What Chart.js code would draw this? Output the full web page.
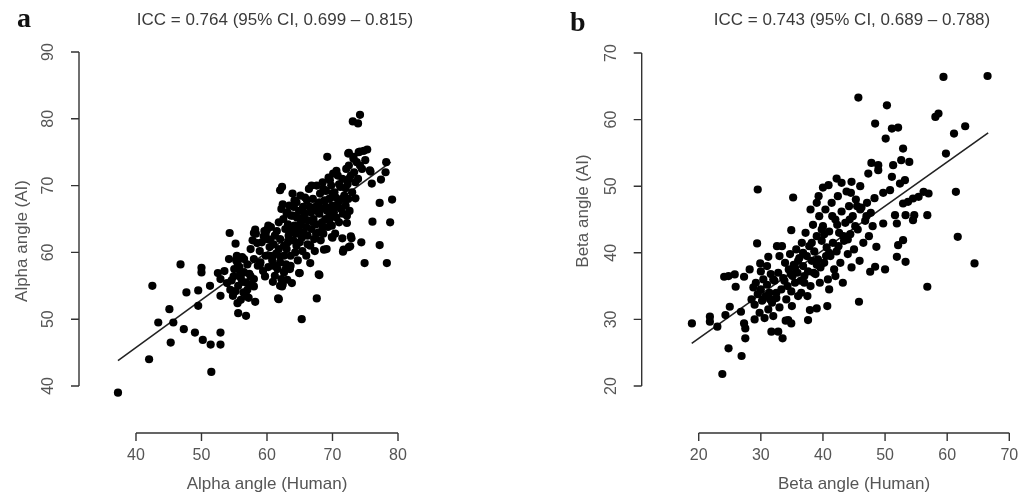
<!DOCTYPE html>
<html>
<head>
<meta charset="utf-8">
<script src="https://cdn.jsdelivr.net/npm/chart.js@4.4.1/dist/chart.umd.min.js"></script>
<style>
  html, body { margin: 0; padding: 0; background: #fff; }
  #wrap { position: relative; width: 1035px; height: 498px; }
  canvas { position: absolute; top: 0; }
</style>
</head>
<body>
<div id="wrap">
  <canvas id="alpha" width="517" height="498" style="left:0"></canvas>
  <canvas id="beta" width="518" height="498" style="left:517px"></canvas>
</div>
<script>
// ---- panel a: alpha angle, human vs AI (x, y pairs) ----
const alphaHuman = [
  37.25, 42.0, 42.5, 43.4, 45.1, 45.3, 45.7, 46.8, 47.3, 47.7, 49.0, 49.5, 49.5, 50.0, 50.0, 50.2,
  51.3, 51.4, 51.5, 52.5, 52.9, 52.9, 52.9, 52.9, 53.5, 54.3, 54.2, 53.9, 54.4, 54.8, 55.2, 55.4,
  55.5, 55.6, 56.8, 55.5, 55.9, 56.2, 56.9, 58.0, 58.2, 57.0, 54.9, 56.5, 57.5, 58.0, 58.2, 58.5,
  59.5, 58.9, 60.0, 60.5, 59.7, 61.8, 60.9, 61.4, 60.8, 62.0, 62.3, 62.8, 63.1, 63.8, 65.0, 65.3,
  66.6, 67.6, 68.0, 68.7, 69.9, 69.2, 71.5, 71.6, 72.5, 72.8, 74.4, 74.9, 72.2, 73.5, 73.1, 73.9,
  74.2, 72.5, 75.3, 74.2, 73.2, 75.8, 76.0, 76.1, 77.2, 77.2, 77.4, 78.1, 78.2, 78.3, 78.8, 79.1,
  70.0, 72.9, 71.7, 72.7, 67.9, 61.7, 64.9, 72.4, 75.7,
  61.5, 61.8, 62.0, 62.2, 62.4, 62.0, 62.3, 62.5, 62.6, 62.8, 62.9, 63.0, 63.1, 63.2, 63.3, 63.4,
  63.5, 63.6, 63.7, 63.8, 63.9, 64.0, 64.1, 64.2, 64.3, 64.4, 64.5, 64.6, 64.7, 64.8, 64.9, 65.0,
  65.1, 65.2, 65.3, 65.4, 65.5, 65.6, 65.8, 66.0, 66.1, 66.2, 66.3, 66.4, 66.6, 66.7, 66.8, 67.0,
  67.1, 67.2, 67.3, 67.4, 67.5, 67.6, 67.8, 67.9, 68.0, 68.1, 68.2, 68.3, 68.4, 68.5, 68.6, 68.8,
  68.9, 69.0, 69.1, 69.2, 69.3, 69.4, 69.5, 69.6, 69.8, 69.9, 70.0, 70.1, 70.2, 70.3, 70.4, 70.5,
  70.6, 70.8, 70.9, 71.0, 71.2, 71.3, 71.5, 71.6, 71.8, 72.0, 72.1, 72.2, 72.3, 72.4, 72.5, 72.6,
  72.8, 73.0, 73.2, 73.3, 73.5, 73.7, 73.9, 74.0, 74.2, 74.5, 74.8, 75.0,
  57.5, 57.8, 58.0, 58.3, 58.6, 58.9, 59.2, 59.4, 59.6, 59.8, 60.0, 60.2, 60.4, 60.6, 60.8, 61.0,
  61.2, 61.4, 61.6, 61.8, 62.0, 62.2, 62.4, 62.6, 62.0, 61.0, 60.5, 59.0,
  55.0, 55.3, 55.8, 56.0, 56.2, 56.5, 56.8, 57.0, 56.4, 55.6, 57.3, 57.6, 58.0, 54.6, 55.2, 56.0, 57.2,
  63.0, 63.5, 64.0, 64.5, 65.0, 65.5, 66.0, 66.5, 67.0, 67.5, 68.0, 68.5, 69.0, 69.5, 70.0, 70.5,
  71.0, 71.5, 72.0, 72.5, 63.2, 64.2, 65.8, 66.8, 67.6, 68.6, 69.6, 70.6, 64.6, 66.2, 62.6, 63.6,
  61.2, 60.2, 59.8
];
const alphaAI = [
  39.0, 44.0, 55.0, 49.5, 51.5, 46.5, 49.5, 58.2, 48.5, 54.0, 48.0, 54.3, 52.0, 57.7, 57.0, 46.9,
  55.0, 46.2, 42.1, 56.9, 53.5, 48.0, 46.2, 56.0, 57.2, 62.9, 59.0, 55.4, 54.4, 53.5, 61.3, 59.5,
  52.4, 50.9, 50.5, 58.4, 56.9, 55.6, 53.4, 54.9, 52.6, 54.4, 56.4, 59.0, 56.4, 62.9, 63.4, 61.4,
  62.4, 58.1, 63.4, 61.9, 56.4, 53.0, 55.6, 57.9, 59.4, 59.4, 54.9, 57.4, 55.9, 55.4, 56.9, 50.0,
  58.4, 53.1, 56.6, 60.4, 62.3, 74.3, 62.1, 60.1, 60.8, 62.4, 61.5, 58.4, 64.4, 68.1, 79.6, 79.3,
  80.6, 74.9, 75.4, 75.1, 74.3, 72.1, 70.3, 64.6, 67.4, 61.1, 70.9, 72.0, 73.5, 58.4, 64.5, 67.9,
  62.2, 62.1, 60.4, 60.9, 56.7, 53.1, 56.9, 74.8, 72.3,
  63.2, 64.5, 62.0, 66.5, 67.2, 69.3, 69.8, 65.0, 61.0, 63.5, 58.2, 60.5, 66.0, 64.2, 62.5, 67.0,
  57.5, 59.5, 65.5, 63.0, 68.8, 61.8, 66.8, 64.0, 60.0, 62.8, 67.5, 65.2, 58.8, 63.8, 66.2, 61.5,
  68.5, 64.5, 62.2, 60.2, 66.8, 63.0, 65.8, 59.5, 67.8, 62.5, 64.8, 69.5, 61.0, 66.0, 63.5, 68.0,
  65.0, 62.0, 60.2, 66.8, 64.2, 70.0, 67.2, 63.0, 65.8, 68.8, 61.8, 66.5, 64.5, 70.5, 62.8, 67.8,
  65.0, 69.2, 60.5, 66.2, 63.8, 71.2, 68.0, 65.5, 70.0, 64.0, 67.0, 71.8, 66.0, 69.0, 62.8, 68.2,
  65.2, 71.5, 67.5, 64.5, 69.8, 66.5, 71.0, 65.8, 68.5, 67.0, 72.5, 65.5, 70.2, 68.0, 73.0, 66.2,
  71.5, 69.0, 74.0, 72.0, 70.5, 73.5, 71.0, 75.0, 73.0, 72.5, 75.2, 73.8,
  60.5, 61.8, 59.0, 62.8, 58.0, 60.2, 61.5, 57.2, 63.2, 59.5, 62.0, 57.8, 60.8, 63.8, 58.8, 61.2,
  56.5, 59.8, 57.5, 60.5, 58.5, 56.0, 55.2, 57.0, 55.0, 58.0, 59.5, 58.5,
  57.5, 58.8, 57.8, 56.2, 59.3, 57.0, 55.5, 58.2, 54.0, 55.0, 56.8, 55.2, 56.0, 55.8, 54.2, 52.9, 53.2,
  65.8, 63.8, 65.5, 61.0, 64.0, 65.2, 63.8, 66.8, 64.6, 62.8, 67.5, 63.8, 66.8, 64.8, 68.8, 66.8,
  70.2, 68.0, 69.6, 71.0, 61.5, 67.8, 68.2, 70.0, 66.2, 69.5, 70.8, 72.2, 63.2, 61.2, 59.5, 58.0,
  62.5, 64.0, 62.8
];
const alphaFitX = [37.25, 78.9];
const alphaFitY = [43.8, 73.5];
const alphaXTicks = [40, 50, 60, 70, 80];
const alphaYTicks = [40, 50, 60, 70, 80, 90];

// ---- panel b: beta angle, human vs AI ----
const betaHuman = [
  18.9, 21.8, 21.8, 23.0, 23.8, 24.1, 24.8, 24.3, 25.0, 24.8, 25.8, 25.95, 27.3, 26.8, 26.9, 27.3,
  27.5, 27.5, 28.2, 29.5, 29.4, 29.9, 31.2, 31.7, 32.8, 33.5, 32.6, 33.4, 34.9, 35.2, 34.4, 34.9,
  37.6, 37.9, 39.0, 40.7, 45.8, 39.3, 42.2, 40.9, 44.6, 45.7, 48.4, 50.3, 50.1, 51.1, 52.1, 47.8,
  48.9, 48.9, 47.3, 51.3, 52.9, 52.6, 53.9, 56.2, 57.0, 56.8, 56.8, 58.1, 58.6, 59.4, 59.8, 61.1,
  62.9, 61.4, 61.7, 64.4, 66.5, 54.5, 54.5, 54.7, 53.3, 52.9, 53.3, 51.9, 52.1, 52.9, 51.6, 51.9,
  49.7, 50.0, 48.6, 48.4, 47.6, 49.7, 50.8, 51.1, 52.4, 53.2, 53.7, 55.4,
  28.5, 28.8, 29.0, 29.2, 29.5, 29.8, 30.0, 30.2, 30.4, 30.6, 30.8, 31.0, 31.2, 31.4, 31.6, 31.8,
  32.0, 32.2, 32.5, 32.8, 33.0, 33.3, 33.6, 33.9, 34.1, 34.3, 34.5, 34.7, 34.9, 35.1, 35.3, 35.5,
  35.7, 35.9, 36.0, 36.2, 36.4, 36.6, 36.8, 37.0, 37.2, 37.4, 37.6, 37.8, 38.0, 38.2, 38.4, 38.6,
  38.8, 39.0, 39.2, 39.4, 39.6, 39.8, 40.0, 40.2, 40.4, 40.6, 40.8, 41.0, 41.2, 41.4, 41.6, 41.8,
  42.0, 42.2, 42.4, 42.6, 42.8, 43.0, 43.2, 43.4, 43.6, 43.8, 44.0, 44.2, 44.4, 44.6, 44.8, 45.0,
  45.3, 45.6, 45.9, 46.2, 46.5, 46.8, 47.1, 47.4, 47.7, 48.0, 48.3, 36.5, 35.0, 37.5, 39.5, 41.0,
  42.0, 33.0, 31.0, 30.0, 29.0, 32.0, 34.0, 38.0, 40.0, 43.0, 44.5, 46.0, 39.0, 41.5,
  35.5, 36.8, 38.2, 39.0, 40.2, 41.0, 42.3, 43.3, 44.3, 45.2, 46.0, 33.8, 32.5, 31.5, 30.3, 37.0,
  38.5, 40.5, 42.5, 44.0, 45.5, 47.0, 36.0, 34.8, 39.8
];
const betaAI = [
  29.4, 30.4, 29.65, 28.9, 21.8, 36.4, 36.5, 30.65, 31.9, 25.65, 36.75, 34.9, 36.4, 31.15, 24.5, 29.4,
  27.15, 28.65, 37.5, 49.5, 41.4, 38.4, 39.4, 28.15, 28.15, 27.15, 41.0, 41.0, 43.4, 48.3, 29.9, 29.4,
  29.9, 31.4, 31.65, 32.0, 32.65, 48.5, 51.15, 50.15, 50.65, 63.3, 59.4, 62.15, 57.15, 58.65, 58.8, 53.5,
  53.15, 52.4, 51.9, 53.15, 55.65, 53.9, 53.65, 49.15, 48.9, 45.65, 34.9, 60.4, 60.9, 66.4, 54.9, 57.9,
  59.0, 49.15, 42.4, 38.4, 66.55, 48.15, 44.9, 45.65, 45.65, 47.4, 38.65, 39.4, 41.15, 41.9, 45.65, 44.4,
  44.4, 37.5, 40.9, 37.9, 37.15, 49.0, 49.4, 51.4, 50.4, 50.9, 47.65, 48.4,
  33.0, 34.8, 32.2, 35.5, 33.8, 31.0, 34.5, 32.8, 36.0, 30.2, 33.5, 35.2, 31.5, 34.0, 36.8, 32.5,
  30.5, 35.8, 33.2, 37.0, 31.8, 34.5, 36.2, 38.5, 33.0, 35.0, 37.5, 39.8, 34.2, 36.5, 38.2, 35.5,
  40.5, 37.0, 33.5, 39.2, 35.8, 41.5, 38.0, 36.5, 43.0, 39.5, 37.2, 41.0, 35.0, 38.8, 44.2, 40.2,
  36.8, 42.5, 39.0, 45.5, 37.8, 41.8, 44.0, 38.5, 46.5, 40.8, 36.0, 43.2, 39.5, 47.5, 41.5, 37.5,
  45.0, 40.2, 48.5, 43.0, 38.5, 46.2, 35.5, 41.8, 44.5, 49.2, 39.8, 47.0, 42.8, 37.8, 45.5, 40.5,
  48.0, 43.5, 38.8, 46.8, 41.5, 44.8, 47.5, 42.5, 46.0, 44.0, 48.2, 34.0, 32.0, 33.5, 35.5, 34.5,
  36.5, 39.5, 38.0, 37.2, 30.0, 36.0, 29.8, 46.5, 49.8, 50.5, 49.0, 50.0, 47.5, 45.5,
  37.8, 40.0, 41.5, 38.2, 42.8, 40.0, 44.2, 42.5, 45.0, 44.0, 46.5, 35.8, 34.0, 33.0, 33.0, 35.5,
  37.0, 39.5, 41.0, 42.0, 47.0, 45.5, 38.8, 36.8, 43.5
];
const betaFitX = [18.87, 66.6];
const betaFitY = [26.4, 58.0];
const betaXTicks = [20, 30, 40, 50, 60, 70];
const betaYTicks = [20, 30, 40, 50, 60, 70];

// R-style detached axes, drawn off the chart's own scales
const rAxes = {
  id: 'rAxes',
  afterDraw(chart, args, o) {
    const {ctx, chartArea: area} = chart;
    const xs = chart.scales.x, ys = chart.scales.y;
    const xt = o.xTicks, yt = o.yTicks;
    ctx.save();
    ctx.strokeStyle = '#333';
    ctx.lineWidth = 1.4;
    ctx.beginPath();
    ctx.moveTo(xs.getPixelForValue(xt[0]), area.bottom);
    ctx.lineTo(xs.getPixelForValue(xt[xt.length - 1]), area.bottom);
    xt.forEach(v => {
      const p = xs.getPixelForValue(v);
      ctx.moveTo(p, area.bottom);
      ctx.lineTo(p, area.bottom + 8);
    });
    ctx.moveTo(area.left, ys.getPixelForValue(yt[0]));
    ctx.lineTo(area.left, ys.getPixelForValue(yt[yt.length - 1]));
    yt.forEach(v => {
      const p = ys.getPixelForValue(v);
      ctx.moveTo(area.left, p);
      ctx.lineTo(area.left - 8, p);
    });
    ctx.stroke();

    ctx.fillStyle = '#555';
    ctx.font = '16px "Liberation Sans", Arial, sans-serif';
    ctx.textAlign = 'center';
    ctx.textBaseline = 'middle';
    xt.forEach(v => ctx.fillText(String(v), xs.getPixelForValue(v), area.bottom + 23));
    yt.forEach(v => {
      ctx.save();
      ctx.translate(o.yTickX, ys.getPixelForValue(v));
      ctx.rotate(-Math.PI / 2);
      ctx.fillText(String(v), 0, 0);
      ctx.restore();
    });

    ctx.font = '17px "Liberation Sans", Arial, sans-serif';
    const xMid = (xs.getPixelForValue(xt[0]) + xs.getPixelForValue(xt[xt.length - 1])) / 2;
    ctx.fillText(o.xTitle, xMid, area.bottom + 51);
    ctx.save();
    ctx.translate(o.yTitleX, o.yTitleY);
    ctx.rotate(-Math.PI / 2);
    ctx.fillText(o.yTitle, 0, 0);
    ctx.restore();

    ctx.fillStyle = '#3a3a3a';
    ctx.fillText(o.title, o.titleX, 20);

    ctx.fillStyle = '#111';
    ctx.font = 'bold 28px "Liberation Serif", "Times New Roman", serif';
    ctx.textAlign = 'left';
    ctx.textBaseline = 'alphabetic';
    ctx.fillText(o.letter, o.letterX, o.letterY);
    ctx.restore();
  }
};

function toPoints(xs, ys) {
  return xs.map((v, i) => ({x: v, y: ys[i]}));
}

function panel(id, hx, ay, fx, fy, lim, pad, axisOpts) {
  return new Chart(document.getElementById(id).getContext('2d'), {
    type: 'scatter',
    data: {
      datasets: [{
        data: toPoints(hx, ay),
        backgroundColor: '#000',
        borderWidth: 0,
        pointRadius: 4.1,
        pointHoverRadius: 4.1,
        clip: false
      }, {
        type: 'line',
        data: toPoints(fx, fy),
        borderColor: '#222',
        borderWidth: 1.6,
        pointRadius: 0,
        fill: false,
        clip: false
      }]
    },
    options: {
      responsive: false,
      animation: false,
      events: [],
      layout: {padding: pad},
      scales: {
        x: {type: 'linear', min: lim[0], max: lim[1], display: false},
        y: {type: 'linear', min: lim[2], max: lim[3], display: false}
      },
      plugins: {
        legend: {display: false},
        tooltip: {enabled: false},
        rAxes: axisOpts
      }
    },
    plugins: [rAxes]
  });
}

panel('alpha', alphaHuman, alphaAI, alphaFitX, alphaFitY,
  [31.3, 80, 32.96, 90],
  {left: 79, right: 119, top: 52, bottom: 65},
  {
    xTicks: alphaXTicks, yTicks: alphaYTicks,
    xTitle: 'Alpha angle (Human)', yTitle: 'Alpha angle (AI)',
    title: 'ICC = 0.764 (95% CI, 0.699 \u2013 0.815)',
    titleX: 275, yTickX: 49, yTitleX: 22, yTitleY: 241,
    letter: 'a', letterX: 17, letterY: 27
  });

panel('beta', betaHuman, betaAI, betaFitX, betaFitY,
  [10.82, 70, 12.94, 70],
  {left: 124.7, right: 25.7, top: 53, bottom: 65},
  {
    xTicks: betaXTicks, yTicks: betaYTicks,
    xTitle: 'Beta angle (Human)', yTitle: 'Beta angle (AI)',
    title: 'ICC = 0.743 (95% CI, 0.689 \u2013 0.788)',
    titleX: 335, yTickX: 95, yTitleX: 66, yTitleY: 211,
    letter: 'b', letterX: 53, letterY: 31
  });
</script>
</body>
</html>
